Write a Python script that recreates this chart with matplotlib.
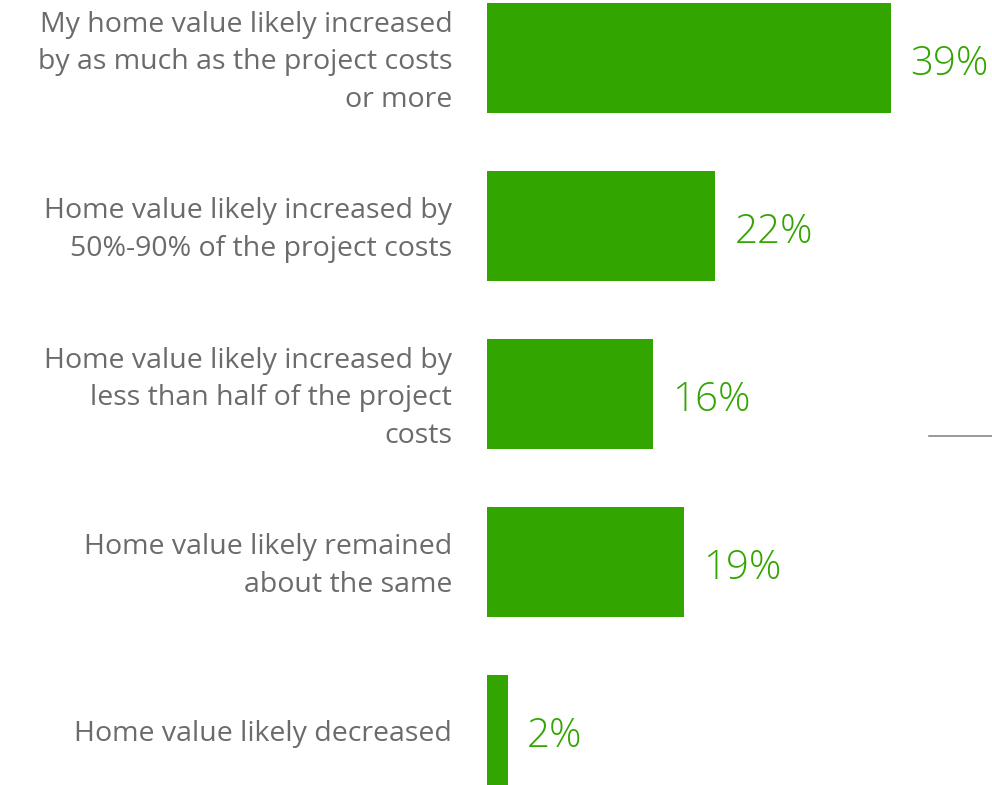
import numpy as np
import matplotlib.pyplot as plt
from matplotlib.lines import Line2D

categories = [
    "My home value likely increased\nby as much as the project costs\nor more",
    "Home value likely increased by\n50%-90% of the project costs",
    "Home value likely increased by\nless than half of the project\ncosts",
    "Home value likely remained\nabout the same",
    "Home value likely decreased",
]
values = [39, 22, 16, 19, 2]
value_labels = ["39%", "22%", "16%", "19%", "2%"]

green = "#33a500"
grey = "#6b6b6b"

plt.rcParams['font.family'] = ['Open Sans', 'DejaVu Sans']

fig = plt.figure(figsize=(9.92, 7.85), dpi=100)
ax = fig.add_axes([487 / 992, 0, (891 - 487) / 992, 782 / 785])

y = np.arange(len(values))
ax.barh(y, values, height=0.655, color=green)
ax.set_xlim(0, 39)
ax.set_ylim(4.3275, -0.3275)
ax.axis('off')

for yi, v, lab, cat in zip(y, values, value_labels, categories):
    ax.annotate(lab, (v, yi), xytext=(14, -5), textcoords='offset points',
                ha='left', va='center', fontsize=29, color=green,
                fontweight='light', annotation_clip=False)
    ax.annotate(cat, (0, yi), xytext=(-25, -3), textcoords='offset points',
                ha='right', va='center', fontsize=20.5, color=grey,
                linespacing=1.45, annotation_clip=False)

# small stray rule on the right edge
fig.add_artist(Line2D([929 / 992, 1.0], [1 - 436 / 785] * 2,
                      color="#888888", lw=1.2))

fig.savefig("out.png", dpi=100)
